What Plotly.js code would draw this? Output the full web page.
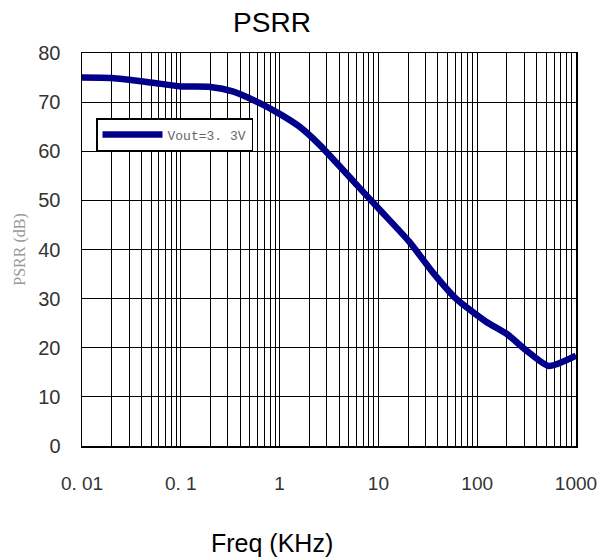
<!DOCTYPE html>
<html>
<head>
<meta charset="utf-8">
<script src="https://cdn.plot.ly/plotly-3.0.1.min.js"></script>
<style>html,body{margin:0;padding:0;background:#fff;}</style>
</head>
<body>
<div id="chart" style="width:601px;height:560px;"></div>
<script>
// Data
const freqKHz = [0.01, 0.02, 0.05, 0.1, 0.2, 0.335, 0.63, 1.0, 1.59, 2.54, 4.03, 6.4, 10.2, 20.5, 35, 61, 123, 200, 316, 530, 1000];
const psrrDb  = [75, 74.9, 74, 73.2, 73.1, 72.2, 69.8, 67.6, 65.0, 61.3, 57.0, 52.6, 48.2, 41.6, 35.5, 30, 25.3, 22.8, 19.4, 16.3, 18.4];
const seriesName = 'Vout=3. 3V';
const xDecades = [0.01, 0.1, 1, 10, 100, 1000];
const xDecadeLabels = ['0. 01', '0. 1', '1', '10', '100', '1000'];
const yTicks = [0, 10, 20, 30, 40, 50, 60, 70, 80];

// grid positions 1..9 per decade, labels only on decades
const xGrid = [], xGridText = [];
for (let d = 0; d < xDecades.length - 1; d++) {
  for (let m = 1; m <= 9; m++) {
    xGrid.push(xDecades[d] * m);
    xGridText.push(m === 1 ? xDecadeLabels[d] : '');
  }
}
xGrid.push(xDecades[xDecades.length - 1]);
xGridText.push(xDecadeLabels[xDecadeLabels.length - 1]);

const trace = {
  x: freqKHz, y: psrrDb, type: 'scatter', mode: 'lines', name: seriesName,
  line: {color: '#00008b', width: 6.5, shape: 'spline', smoothing: 0.6},
  showlegend: true
};

const L = 82, R = 576, T = 53, B = 446;
const layout = {
  width: 601, height: 560,
  margin: {l: L, r: 601 - R, t: T, b: 560 - B},
  paper_bgcolor: '#fff', plot_bgcolor: '#fff',
  title: {text: 'PSRR', x: 272/601, xref: 'container', xanchor: 'center', y: 1 - 22/560, yanchor: 'middle',
          font: {family: 'Liberation Sans, Arial', size: 28, color: '#000'}},
  xaxis: {
    type: 'log', range: [-2, 3], tickmode: 'array', tickvals: xGrid, ticktext: xGridText, ticks: '',
    tickfont: {family: 'Liberation Sans, Arial', size: 19, color: '#333'},
    ticklabelstandoff: 20,
    showgrid: true, gridcolor: '#000', gridwidth: 1,
    showline: true, linecolor: '#000', linewidth: 1.5, mirror: true, zeroline: false
  },
  yaxis: {
    range: [0, 80], tickmode: 'array', tickvals: yTicks, ticks: '',
    showgrid: true, gridcolor: '#000', gridwidth: 1,
    showline: true, linecolor: '#000', linewidth: 1.5, mirror: true, zeroline: false,
    tickfont: {family: 'Liberation Sans, Arial', size: 20, color: '#333'},
    ticklabelstandoff: 16,
    title: {text: 'PSRR (dB)', standoff: 8, font: {family: 'Liberation Serif, Times New Roman', size: 16, color: '#999'}}
  },
  legend: {
    x: (96 - L) / (R - L), y: (B - 118) / (B - T), xanchor: 'left', yanchor: 'top',
    bgcolor: '#fff', bordercolor: '#000', borderwidth: 1.5,
    itemwidth: 60, tracegroupgap: 0,
    font: {family: 'Liberation Mono, DejaVu Sans Mono, monospace', size: 13, color: '#666'}
  },
  annotations: [{
    x: 272/601, xref: 'paper', y: (B - 543) / (B - T), yref: 'paper',
    text: 'Freq (KHz)', showarrow: false, xanchor: 'center', yanchor: 'middle',
    font: {family: 'Liberation Sans, Arial', size: 25, color: '#000'}
  }]
};
layout.annotations[0].x = (272 - L) / (R - L);

Plotly.newPlot('chart', [trace], layout, {displayModeBar: false, staticPlot: true});
</script>
</body>
</html>
